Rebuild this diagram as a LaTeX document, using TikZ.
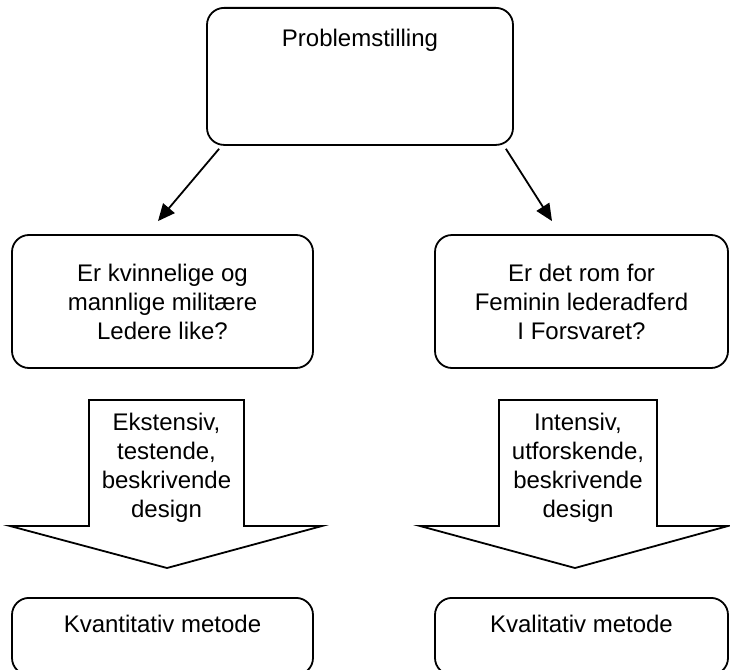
\documentclass[tikz,border=0pt]{standalone}
\usepackage{fontspec}
\setmainfont{Liberation Sans}
\usetikzlibrary{arrows.meta}
\newcommand{\qfont}{\fontsize{24pt}{29pt}\selectfont}
\tikzset{
  qbox/.style={draw, rectangle, rounded corners=17pt, line width=1.8pt, align=center, font=\qfont, inner sep=0pt},
  qtext/.style={align=center, font=\qfont},
  link/.style={line width=1.8pt, -{Triangle[length=17pt,width=15pt]}},
  bigarrow/.style={draw, line width=1.8pt, line join=miter}
}
\begin{document}
\begin{tikzpicture}[x=1pt,y=-1pt]
    \useasboundingbox (0,0) rectangle (730,669);
    \node[qbox, minimum width=306pt, text height=39pt, text depth=98pt, anchor=north] (problem) at (360,7) {Problemstilling};
    \node[qbox, minimum width=301pt, minimum height=133pt] (likhet) at (162.5,301.5) {Er kvinnelige og\\mannlige militære\\Ledere like?};
    \node[qbox, minimum width=293pt, minimum height=133pt] (rom) at (581.5,301.5) {Er det rom for\\Feminin lederadferd\\I Forsvaret?};
    \draw[link] ([xshift=13pt,yshift=-3pt]problem.south west) -- ([xshift=-4.5pt,yshift=13pt]likhet.north);
    \draw[link] ([xshift=-8pt,yshift=-3pt]problem.south east) -- ([xshift=-29.5pt,yshift=13pt]rom.north);
    % block arrows
    \draw[bigarrow] (89,400) -- (244,400) -- (244,526) -- (322,526) -- (167,568) -- (10,526) -- (89,526) -- cycle;
    \draw[bigarrow] (499,400) -- (657,400) -- (657,526) -- (728,526) -- (575,568) -- (420,526) -- (499,526) -- cycle;
    \node[qtext] (ekst) at (166.5,468) {Ekstensiv,\\testende,\\beskrivende\\design};
    \node[qtext] (inte) at (578,468) {Intensiv,\\utforskende,\\beskrivende\\design};
    \node[qbox, minimum width=301pt, text height=35pt, text depth=42pt, anchor=north] (kvant) at (162.5,597) {Kvantitativ metode};
    \node[qbox, minimum width=293pt, text height=35pt, text depth=42pt, anchor=north] (kval) at (581.5,597) {Kvalitativ metode};
\end{tikzpicture}
\end{document}
